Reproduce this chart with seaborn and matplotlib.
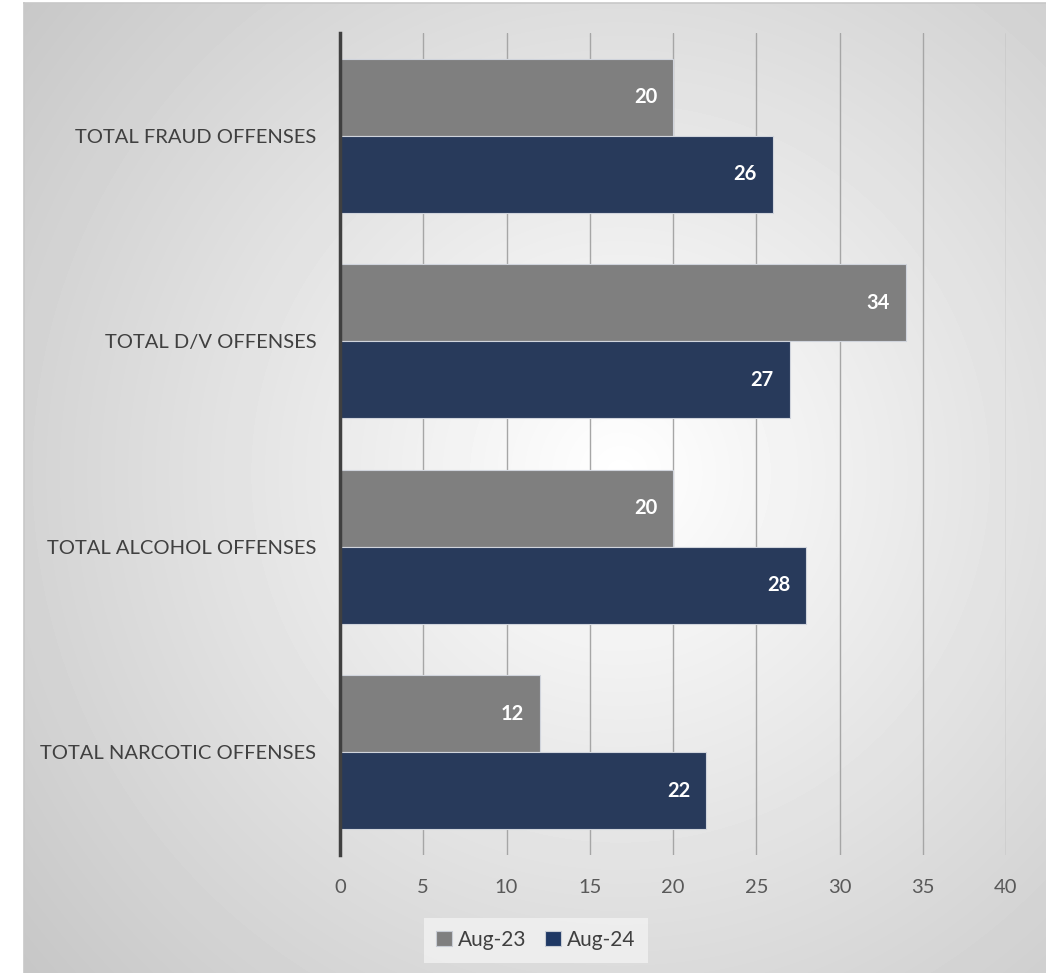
import numpy as np
import pandas as pd
import matplotlib
matplotlib.use('Agg')
import matplotlib.pyplot as plt
import seaborn as sns
from matplotlib.patches import Patch

# Données
categories = ['TOTAL FRAUD OFFENSES', 'TOTAL D/V OFFENSES',
              'TOTAL ALCOHOL OFFENSES', 'TOTAL NARCOTIC OFFENSES']
aug23 = [20, 34, 20, 12]
aug24 = [26, 27, 28, 22]
series = ['Aug-23', 'Aug-24']
xticks = [0, 5, 10, 15, 20, 25, 30, 35, 40]

colors = {'Aug-23': '#7f7f7f', 'Aug-24': '#1f3864'}

df = pd.DataFrame({
    'category': categories * 2,
    'value': aug23 + aug24,
    'series': ['Aug-23'] * 4 + ['Aug-24'] * 4,
})

sns.set_theme(style='white')
plt.rcParams['font.family'] = ['Lato', 'DejaVu Sans']

W, H = 1046, 973
fig = plt.figure(figsize=(W / 100, H / 100), dpi=100)

# fond en dégradé radial
bg = fig.add_axes([24 / W, 0, 1 - 24 / W, 1 - 3 / H])
yy, xx = np.mgrid[0:H - 3, 0:W - 24]
cx, cy = 620 - 24, 470
r = np.sqrt((xx - cx) ** 2 + (yy - cy) ** 2)
shade = np.clip(1 - 0.22 * r / 770, 0, 1)
bg.imshow(shade, cmap='gray', vmin=0, vmax=1, aspect='auto',
          extent=(0, 1, 0, 1), origin='upper')
bg.set_xticks([])
bg.set_yticks([])
for s in ['right', 'bottom']:
    bg.spines[s].set_visible(False)
for s in ['top', 'left']:
    bg.spines[s].set_color('#c8c8c8')
    bg.spines[s].set_linewidth(1.2)

ax = fig.add_axes([340 / W, 1 - 855 / H, (1006 - 340) / W, (855 - 33) / H])
ax.patch.set_alpha(0)

sns.barplot(data=df, x='value', y='category', hue='series', orient='h',
            palette=colors, width=0.75, gap=0, ax=ax,
            edgecolor='#d0d4dc', linewidth=0.8, legend=False)

for p in ax.patches:
    w = p.get_width()
    ax.annotate(f'{w:.0f}', xy=(p.get_x() + w, p.get_y() + p.get_height() / 2),
                xytext=(-11.5, 0), textcoords='offset points',
                ha='right', va='center', color='white',
                fontsize=14.5, fontweight='bold')

ax.set_xlim(0, 40)
ax.set_xticks(xticks)
ax.set_ylim(3.5, -0.5)
ax.set_xlabel('')
ax.set_ylabel('')
ax.grid(axis='x', color='#a6a6a6', linewidth=1)
ax.set_axisbelow(True)
ax.tick_params(axis='x', length=0, pad=17, labelsize=14.5, labelcolor='#595959')
ax.tick_params(axis='y', length=0, pad=17, labelsize=14.5, labelcolor='#404040')
for s in ['top', 'right', 'bottom']:
    ax.spines[s].set_visible(False)
ax.spines['left'].set_color('#404040')
ax.spines['left'].set_linewidth(2.5)

handles = [Patch(facecolor=colors[s], edgecolor='#c8ccd4', linewidth=0.8, label=s)
           for s in series]
leg = fig.legend(handles=handles, loc='center', ncol=2,
                 bbox_to_anchor=(536 / W, 1 - 940 / H), frameon=True,
                 fontsize=15, handlelength=0.75, handleheight=0.75,
                 handletextpad=0.3, columnspacing=0.9, borderpad=0.6,
                 borderaxespad=0, fancybox=False)
leg.get_frame().set_facecolor('#f2f2f2')
leg.get_frame().set_edgecolor('none')
for t in leg.get_texts():
    t.set_color('#404040')

plt.savefig('out.png', dpi=100)
